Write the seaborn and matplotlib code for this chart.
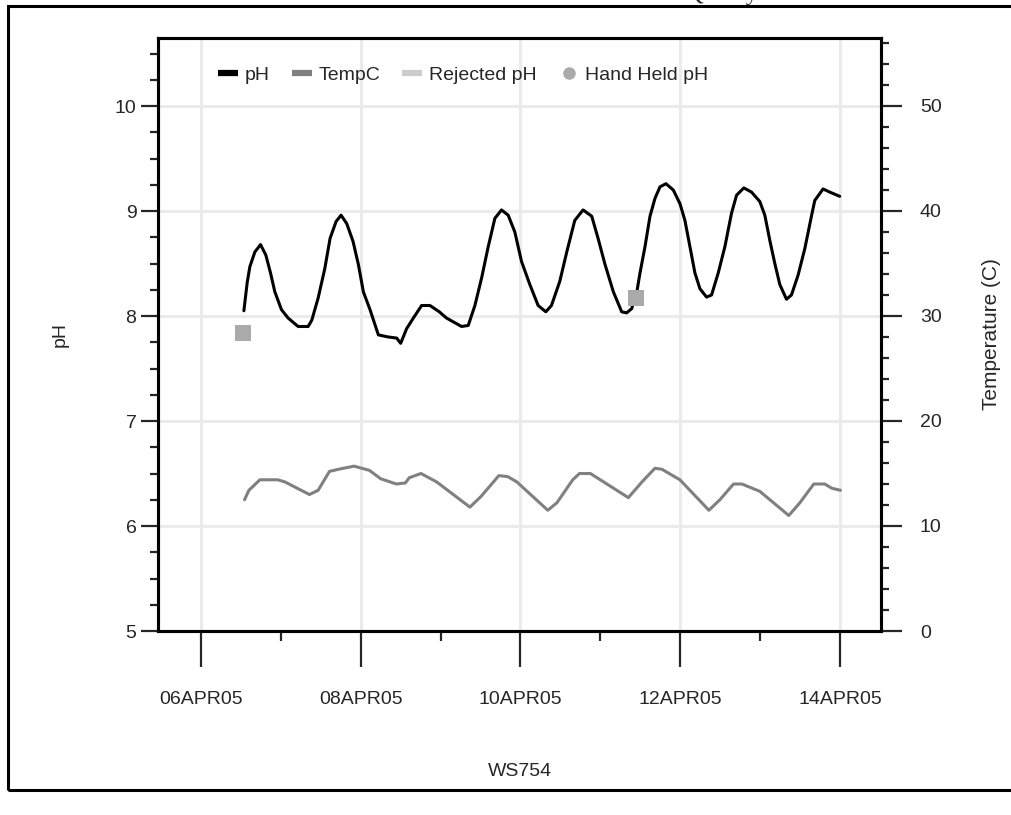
import matplotlib
matplotlib.use("Agg")
import matplotlib.pyplot as plt
from matplotlib.lines import Line2D
from matplotlib.patches import Rectangle
from matplotlib.ticker import MultipleLocator
import seaborn as sns
import pandas as pd

# ---------------- data ----------------
base_date = "2005-04-06 00:00"

ph_hours = [12.9, 13.9, 14.7, 16.2, 17.9, 19.5, 20.9, 22.2, 24.2, 26.2,
            29.2, 32.2, 33.3, 35.2, 37.2, 38.8, 40.6, 42.1, 43.8, 45.7,
            47.3, 48.8, 50.8, 53.3, 56.3, 58.8, 60.0, 61.8, 63.8, 66.3,
            68.8, 71.6, 73.8, 78.3, 80.3, 82.3, 84.3, 86.3, 88.3, 90.3,
            92.3, 94.3, 96.3, 98.8, 101.3, 103.6, 105.3, 107.8, 109.9, 112.3,
            114.8, 117.4, 119.3, 121.4, 123.9, 126.4, 127.9, 129.4, 130.9, 131.9,
            133.4, 134.9, 136.4, 137.9, 139.7, 141.9, 143.9, 145.4, 146.9, 148.4,
            149.9, 151.9, 153.4, 155.4, 157.4, 159.4, 160.9, 163.1, 165.4, 167.9,
            169.4, 170.9, 172.4, 173.9, 175.9, 177.4, 179.4, 181.4, 183.4, 184.4,
            186.9, 188.9, 191.9]
ph_values = [8.05, 8.32, 8.47, 8.61, 8.68, 8.58, 8.41, 8.23, 8.06, 7.98,
             7.90, 7.90, 7.96, 8.17, 8.45, 8.74, 8.90, 8.96, 8.88, 8.71,
             8.49, 8.23, 8.06, 7.82, 7.80, 7.79, 7.74, 7.88, 7.98, 8.10,
             8.10, 8.04, 7.98, 7.90, 7.91, 8.10, 8.36, 8.66, 8.93, 9.01,
             8.96, 8.80, 8.52, 8.30, 8.10, 8.04, 8.10, 8.33, 8.61, 8.91,
             9.01, 8.95, 8.74, 8.49, 8.23, 8.04, 8.03, 8.07, 8.22, 8.41,
             8.66, 8.95, 9.12, 9.23, 9.26, 9.20, 9.07, 8.91, 8.66, 8.41,
             8.26, 8.18, 8.20, 8.41, 8.66, 8.98, 9.15, 9.22, 9.18, 9.09,
             8.96, 8.72, 8.50, 8.30, 8.16, 8.20, 8.39, 8.64, 8.95, 9.10,
             9.21, 9.18, 9.14]

temp_hours = [13.1, 14.4, 17.7, 23.1, 25.2, 32.6, 35.2, 38.6, 41.3, 46.0,
              50.6, 54.0, 58.7, 61.4, 62.6, 66.1, 70.8, 80.8, 84.1, 89.5,
              92.2, 94.9, 104.2, 106.9, 111.7, 113.7, 117.0, 128.4, 132.5, 136.4,
              138.5, 143.9, 147.2, 152.6, 155.9, 160.0, 162.5, 167.9, 176.6, 179.9,
              184.1, 187.4, 189.5, 192.1]
temp_values = [12.5, 13.4, 14.4, 14.4, 14.2, 13.0, 13.4, 15.2, 15.4, 15.7,
               15.3, 14.5, 14.0, 14.1, 14.6, 15.0, 14.2, 11.8, 12.8, 14.8,
               14.7, 14.2, 11.5, 12.2, 14.4, 15.0, 15.0, 12.7, 14.2, 15.5,
               15.4, 14.4, 13.3, 11.5, 12.5, 14.0, 14.0, 13.3, 11.0, 12.2,
               14.0, 14.0, 13.6, 13.4]

handheld_hours = [12.6, 130.6]
handheld_values = [7.84, 8.17]

major_tick_dates = ["2005-04-06", "2005-04-08", "2005-04-10", "2005-04-12", "2005-04-14"]
minor_tick_dates = ["2005-04-07", "2005-04-09", "2005-04-11", "2005-04-13"]
tick_labels = ["06APR05", "08APR05", "10APR05", "12APR05", "14APR05"]
x_start_hours = -12.9
x_end_hours = 204.3

legend_labels = ["pH", "TempC", "Rejected pH", "Hand Held pH"]
title_text = "Water Quality"
c_ph = "#000000"
c_temp = "#808080"
c_rej = "#cccccc"
c_hand = "#aaaaaa"

# ---------------- build frames ----------------
t0 = pd.Timestamp(base_date)
ph_df = pd.DataFrame({"time": t0 + pd.to_timedelta(ph_hours, unit="h"), "pH": ph_values})
temp_df = pd.DataFrame({"time": t0 + pd.to_timedelta(temp_hours, unit="h"), "TempC": temp_values})
hand_df = pd.DataFrame({"time": t0 + pd.to_timedelta(handheld_hours, unit="h"), "pH": handheld_values})

# ---------------- style ----------------
sns.set_style("white")
plt.rcParams["font.family"] = ["Liberation Sans", "DejaVu Sans"]

fig = plt.figure(figsize=(10.12, 8.15), dpi=100)
ax = fig.add_axes([158 / 1012, 1 - 631 / 815, 723 / 1012, 593 / 815])
ax2 = ax.twinx()

sns.lineplot(data=ph_df, x="time", y="pH", ax=ax, color=c_ph, linewidth=2.2,
             estimator=None, sort=False, legend=False, zorder=3)
sns.scatterplot(data=hand_df, x="time", y="pH", ax=ax, color=c_hand, marker="s",
                s=130, edgecolor="none", legend=False, zorder=4)
sns.lineplot(data=temp_df, x="time", y="TempC", ax=ax2, color=c_temp, linewidth=2.2,
             estimator=None, sort=False, legend=False, zorder=3)

ax.set_xlim(t0 + pd.Timedelta(hours=x_start_hours), t0 + pd.Timedelta(hours=x_end_hours))
ax.set_ylim(5, 5 + 593 / 105)
ax2.set_ylim(0, 593 / 10.5)

ax.set_xticks(pd.to_datetime(major_tick_dates))
ax.set_xticks(pd.to_datetime(minor_tick_dates), minor=True)
ax.set_xticklabels(tick_labels)
ax.set_yticks([5, 6, 7, 8, 9, 10])
ax.yaxis.set_minor_locator(MultipleLocator(0.25))
ax2.set_yticks([0, 10, 20, 30, 40, 50])
ax2.yaxis.set_minor_locator(MultipleLocator(2))

ax.grid(True, which="major", color="#ebebeb", linewidth=2.2)
ax.set_axisbelow(True)
ax2.grid(False)

ax.tick_params(axis="x", which="major", direction="out", length=26, width=1.6,
               pad=17, labelsize=14, bottom=True)
ax.tick_params(axis="x", which="minor", direction="out", length=7, width=1.6, bottom=True)
ax.tick_params(axis="y", which="major", direction="out", length=12, width=1.6,
               pad=3.5, labelsize=14, left=True, right=False)
ax.tick_params(axis="y", which="minor", direction="out", length=5.5, width=1.6, left=True, right=False)
ax2.tick_params(axis="y", which="major", direction="out", length=15, width=1.6,
                pad=13, labelsize=14, right=True, left=False)
ax2.tick_params(axis="y", which="minor", direction="out", length=5.5, width=1.6, right=True, left=False)

for a in (ax, ax2):
    for sp in a.spines.values():
        sp.set_visible(True)
        sp.set_linewidth(2.2)
        sp.set_color("black")

ax.set_xlabel("WS754", fontsize=14, labelpad=40)
ax.set_ylabel("pH", fontsize=14, labelpad=33)
ax2.set_ylabel("Temperature (C)", fontsize=15, labelpad=29)

handles = [
    Line2D([0], [0], color=c_ph, lw=4.5, solid_capstyle="butt"),
    Line2D([0], [0], color=c_temp, lw=4.5, solid_capstyle="butt"),
    Line2D([0], [0], color=c_rej, lw=4.5, solid_capstyle="butt"),
    Line2D([0], [0], marker="o", color=c_hand, linestyle="None", markersize=8),
]
ax2.legend(handles, legend_labels, loc="center left", bbox_to_anchor=(0.083, 0.9376),
           ncol=4, frameon=False, fontsize=14, handlelength=1.03, handletextpad=0.33,
           columnspacing=1.15, borderaxespad=0, borderpad=0)

# outer frame and the title that is cut off at the very top of the reference
fig.add_artist(Rectangle((8 / 1012, 1 - 790 / 815), 1.2, (790 - 6) / 815,
                         transform=fig.transFigure, fill=False, lw=2.2,
                         edgecolor="black", clip_on=False))
fig.text(625 / 1012, 1.0, title_text, fontsize=17, ha="left", va="baseline",
         family=["Liberation Serif", "DejaVu Serif"])

fig.savefig("out.png", dpi=100)
